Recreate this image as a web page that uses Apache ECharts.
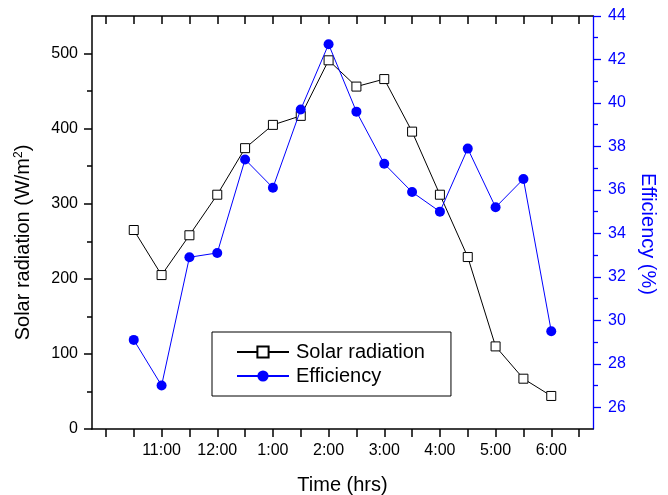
<!DOCTYPE html>
<html>
<head>
<meta charset="utf-8">
<script src="https://cdn.jsdelivr.net/npm/echarts@6/dist/echarts.min.js"></script>
<style>
html,body{margin:0;padding:0;background:#fff;}
#c{width:668px;height:495px;}
</style>
</head>
<body>
<div id="c"></div>
<script>
// ---- data ----
var times = [10.5, 11, 11.5, 12, 12.5, 13, 13.5, 14, 14.5, 15, 15.5, 16, 16.5, 17, 17.5, 18];
var solarRadiation = [265, 205, 258, 312, 374, 405, 417, 491, 456, 466, 396, 312, 229, 110, 67, 44];
var efficiency = [29.1, 27.0, 32.9, 33.1, 37.4, 36.1, 39.7, 42.7, 39.6, 37.2, 35.9, 35.0, 37.9, 35.2, 36.5, 29.5];

var xTickValues = [10, 10.5, 11, 11.5, 12, 12.5, 13, 13.5, 14, 14.5, 15, 15.5, 16, 16.5, 17, 17.5, 18, 18.5];
var xLabelValues = [11, 12, 13, 14, 15, 16, 17, 18];
var xLabelTexts = ['11:00', '12:00', '1:00', '2:00', '3:00', '4:00', '5:00', '6:00'];

var leftMajor = [0, 100, 200, 300, 400, 500];
var leftMinor = [50, 150, 250, 350, 450];
var rightMajor = [26, 28, 30, 32, 34, 36, 38, 40, 42, 44];
var rightMinor = [27, 29, 31, 33, 35, 37, 39, 41, 43];

// ---- chart ----
var FONT = "'Liberation Sans', Arial, sans-serif";
var BLACK = '#000000';
var BLUE = '#0000ff';

function pairs(xs, ys) {
  var out = [];
  for (var i = 0; i < xs.length; i++) out.push([xs[i], ys[i]]);
  return out;
}

var chart = echarts.init(document.getElementById('c'), null, {renderer: 'canvas'});

var xBase = {
  type: 'value', min: 9.75, max: 18.75,
  splitLine: {show: false}
};

chart.setOption({
  animation: false,
  backgroundColor: '#ffffff',
  textStyle: {fontFamily: FONT, color: BLACK},
  grid: {left: 92, top: 16, right: 75, bottom: 66, containLabel: false, outerBoundsMode: 'none'},
  legend: {
    orient: 'vertical',
    left: 212, top: 332,
    padding: [10, 26, 10, 24],
    borderColor: BLACK, borderWidth: 1,
    backgroundColor: '#ffffff',
    itemWidth: 52, itemHeight: 14, itemGap: 4,
    textStyle: {fontSize: 20, color: BLACK, fontFamily: FONT, lineHeight: 20, padding: [0, 0, 0, 2]},
    data: ['Solar radiation', 'Efficiency']
  },
  xAxis: [
    Object.assign({}, xBase, {
      position: 'bottom',
      name: 'Time (hrs)', nameLocation: 'middle', nameGap: 46,
      nameTextStyle: {fontSize: 20, color: BLACK, fontFamily: FONT},
      axisLine: {show: true, onZero: false, lineStyle: {color: BLACK, width: 1.5}},
      axisTick: {show: true, inside: false, length: 8, customValues: xTickValues, lineStyle: {color: BLACK, width: 1.5}},
      axisLabel: {
        show: true, margin: 14, fontSize: 16, color: BLACK, fontFamily: FONT,
        customValues: xLabelValues,
        formatter: function (v) {
          var i = xLabelValues.indexOf(v);
          return i >= 0 ? xLabelTexts[i] : '';
        }
      }
    }),
    Object.assign({}, xBase, {
      position: 'top',
      axisLine: {show: true, onZero: false, lineStyle: {color: BLACK, width: 1.5}},
      axisTick: {show: true, inside: true, length: 8, customValues: xTickValues, lineStyle: {color: BLACK, width: 1.5}},
      axisLabel: {show: false}
    })
  ],
  yAxis: [
    {
      type: 'value', position: 'left', min: 0, max: 550,
      splitLine: {show: false},
      name: 'Solar radiation (W/m{sup|2})', nameLocation: 'middle', nameGap: 58, nameRotate: 90,
      nameTextStyle: {
        fontSize: 20, color: BLACK, fontFamily: FONT, padding: [0, 40, 0, 0],
        rich: {sup: {fontSize: 12, color: BLACK, fontFamily: FONT, verticalAlign: 'top', padding: [0, 0, 9, 0]}}
      },
      axisLine: {show: true, onZero: false, lineStyle: {color: BLACK, width: 1.5}},
      axisTick: {show: true, inside: false, length: 8, customValues: leftMajor, lineStyle: {color: BLACK, width: 1.5}},
      axisLabel: {show: true, margin: 14, fontSize: 16, color: BLACK, fontFamily: FONT, customValues: leftMajor}
    },
    {
      type: 'value', position: 'left', min: 0, max: 550,
      splitLine: {show: false},
      axisLine: {show: false},
      axisTick: {show: true, inside: false, length: 5, customValues: leftMinor, lineStyle: {color: BLACK, width: 1.5}},
      axisLabel: {show: false}
    },
    {
      type: 'value', position: 'right', min: 25, max: 44,
      splitLine: {show: false},
      name: 'Efficiency (%)', nameLocation: 'middle', nameGap: 45, nameRotate: -90,
      nameTextStyle: {fontSize: 20, color: BLUE, fontFamily: FONT, padding: [0, 0, 0, 23]},
      axisLine: {show: true, onZero: false, lineStyle: {color: BLUE, width: 1.3}},
      axisTick: {show: true, inside: false, length: 8, customValues: rightMajor, lineStyle: {color: BLUE, width: 1.3}},
      axisLabel: {show: true, margin: 15, fontSize: 16, color: BLUE, fontFamily: FONT, customValues: rightMajor}
    },
    {
      type: 'value', position: 'right', min: 25, max: 44,
      splitLine: {show: false},
      axisLine: {show: false},
      axisTick: {show: true, inside: false, length: 5, customValues: rightMinor, lineStyle: {color: BLUE, width: 1.3}},
      axisLabel: {show: false}
    }
  ],
  series: [
    {
      name: 'Solar radiation', type: 'line', xAxisIndex: 0, yAxisIndex: 0,
      data: pairs(times, solarRadiation),
      symbol: 'rect', symbolSize: 9,
      itemStyle: {color: '#ffffff', borderColor: BLACK, borderWidth: 1},
      lineStyle: {color: BLACK, width: 1},
      z: 2
    },
    {
      name: 'Efficiency', type: 'line', xAxisIndex: 0, yAxisIndex: 2,
      data: pairs(times, efficiency),
      symbol: 'circle', symbolSize: 10,
      itemStyle: {color: BLUE, borderColor: BLUE, borderWidth: 0},
      lineStyle: {color: BLUE, width: 1},
      z: 3
    }
  ]
});
</script>
</body>
</html>
